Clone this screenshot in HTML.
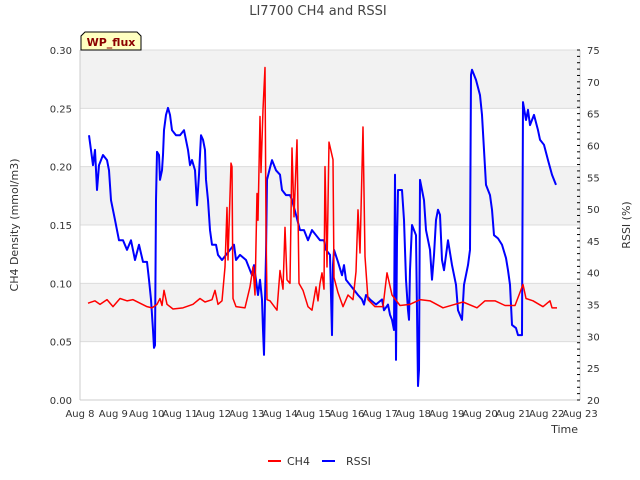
<!DOCTYPE html>
<html><head><meta charset="utf-8"><style>
body{margin:0;background:#fff;}
svg{display:block;font-family:"DejaVu Sans","Liberation Sans",sans-serif;}
</style></head><body>
<svg id="chart" width="640" height="480" xmlns="http://www.w3.org/2000/svg">
<text x="318" y="15" text-anchor="middle" font-size="13" fill="#444">LI7700 CH4 and RSSI</text>
<g id="bands"></g><g id="grid"></g><g id="axes"></g><g id="series"></g>
<text transform="translate(18,225) rotate(-90)" text-anchor="middle" font-size="11" fill="#333">CH4 Density (mmol/m3)</text>
<text transform="translate(630,225) rotate(-90)" text-anchor="middle" font-size="11" fill="#333">RSSI (%)</text>
<text x="578" y="433" text-anchor="end" font-size="11" fill="#333">Time</text>
<g>
<path d="M81,50 L81,36 L85,32 L137,32 L141,36 L141,50 Z" fill="#ffffc0" stroke="#000" stroke-width="1"/>
<text x="111" y="46" text-anchor="middle" font-size="11" font-weight="bold" fill="#8b0000">WP_flux</text>
</g>
<g>
<g><line x1="268" y1="461" x2="281" y2="461" stroke="#f00" stroke-width="2"/><text x="287" y="465" font-size="11" fill="#333">CH4</text></g>
<g><line x1="322" y1="461" x2="335" y2="461" stroke="#00f" stroke-width="2"/><text x="346" y="465" font-size="11" fill="#333">RSSI</text></g>
</g>
</svg>
<script>
const xTickLabels=["Aug 8","Aug 9","Aug 10","Aug 11","Aug 12","Aug 13","Aug 14","Aug 15","Aug 16","Aug 17","Aug 18","Aug 19","Aug 20","Aug 21","Aug 22","Aug 23"];
const yTicks=[0,0.05,0.10,0.15,0.20,0.25,0.30];
const y2Ticks=[20,25,30,35,40,45,50,55,60,65,70,75];
const ch4Days=[0.24,0.45,0.6,0.81,0.99,1.2,1.41,1.59,1.8,2.01,2.16,2.31,2.4,2.46,2.52,2.61,2.79,3.09,3.39,3.6,3.75,3.96,4.05,4.14,4.26,4.35,4.41,4.44,4.53,4.56,4.59,4.68,4.95,5.1,5.19,5.25,5.31,5.34,5.4,5.43,5.49,5.55,5.58,5.61,5.7,5.91,6.0,6.09,6.15,6.21,6.3,6.36,6.42,6.51,6.57,6.69,6.84,6.96,7.08,7.14,7.2,7.26,7.32,7.35,7.41,7.47,7.59,7.62,7.74,7.89,8.04,8.19,8.28,8.34,8.4,8.49,8.55,8.64,8.85,9.09,9.21,9.36,9.6,9.9,10.2,10.5,10.89,11.25,11.49,11.91,12.15,12.45,12.75,13.05,13.29,13.38,13.59,13.89,14.1,14.16,14.31];
const ch4Values=[.083,.085,.082,.086,.080,.087,.085,.086,.083,.080,.079,.082,.087,.081,.094,.082,.078,.079,.082,.087,.084,.086,.094,.082,.085,.114,.165,.12,.203,.20,.087,.08,.079,.097,.114,.09,.177,.154,.243,.195,.249,.285,.148,.086,.085,.077,.111,.095,.148,.103,.10,.216,.157,.223,.10,.094,.08,.077,.097,.085,.10,.109,.095,.20,.114,.221,.206,.105,.092,.08,.09,.086,.11,.163,.126,.234,.123,.086,.08,.08,.109,.09,.081,.082,.086,.085,.079,.082,.084,.079,.085,.085,.081,.081,.099,.087,.085,.08,.085,.079,.079];
const rssiDays=[0.27,0.39,0.45,0.51,0.57,0.69,0.81,0.87,0.93,1.05,1.17,1.29,1.41,1.53,1.65,1.77,1.89,2.01,2.07,2.13,2.19,2.22,2.25,2.28,2.31,2.37,2.4,2.46,2.49,2.52,2.58,2.64,2.7,2.76,2.88,3.0,3.12,3.24,3.3,3.36,3.45,3.51,3.57,3.63,3.69,3.75,3.78,3.84,3.9,3.96,4.08,4.14,4.26,4.38,4.5,4.62,4.68,4.8,4.98,5.1,5.16,5.22,5.34,5.4,5.46,5.49,5.52,5.55,5.58,5.61,5.7,5.76,5.88,6.0,6.06,6.18,6.3,6.36,6.48,6.6,6.72,6.84,6.96,7.08,7.2,7.32,7.38,7.5,7.56,7.59,7.62,7.74,7.86,7.92,7.98,8.1,8.22,8.34,8.46,8.52,8.58,8.7,8.88,9.06,9.12,9.24,9.3,9.36,9.42,9.45,9.48,9.51,9.54,9.66,9.72,9.78,9.84,9.87,9.9,9.96,10.08,10.14,10.17,10.2,10.32,10.38,10.5,10.56,10.62,10.68,10.74,10.8,10.86,10.92,11.04,11.16,11.28,11.34,11.46,11.52,11.64,11.7,11.73,11.76,11.88,12.0,12.06,12.12,12.18,12.3,12.36,12.42,12.54,12.66,12.78,12.84,12.9,12.96,13.08,13.14,13.26,13.29,13.38,13.44,13.5,13.62,13.74,13.8,13.92,14.04,14.16,14.28];
const rssiValues=[61.6,56.9,59.3,53.0,56.9,58.5,57.7,56.1,51.4,48.3,45.1,45.1,43.6,45.1,42.0,44.4,41.7,41.7,38.9,35.8,31.0,28.2,28.6,51.4,59.0,58.5,54.6,56.1,58.5,62.4,64.8,65.9,64.8,62.4,61.6,61.6,62.4,59.3,56.9,57.7,56.1,50.6,55.4,61.6,60.9,59.3,54.6,51.4,46.7,44.4,44.4,42.8,42.0,42.8,43.6,44.4,42.0,42.8,42.0,40.4,39.6,41.2,36.5,38.9,35.8,31.0,27.1,35.8,42.8,54.6,56.5,57.7,56.1,55.4,53.0,52.2,52.2,51.4,49.1,46.7,46.7,45.1,46.7,45.9,45.1,45.1,43.6,42.8,30.2,41.2,43.6,41.7,39.6,41.2,38.9,38.1,37.3,36.5,35.8,35.0,36.5,35.8,35.0,35.8,34.1,35.0,33.4,32.6,31.0,55.4,26.3,45.1,53.0,53.0,48.3,38.9,34.1,32.6,40.4,47.5,45.9,22.2,24.7,54.6,51.4,46.7,43.6,38.9,42.8,48.3,49.9,49.1,42.0,40.4,45.1,41.2,38.1,34.1,32.6,38.1,41.2,43.6,71.1,71.9,70.3,67.9,64.8,59.3,53.8,52.2,49.9,45.9,45.4,44.4,42.3,40.4,38.1,31.8,31.3,30.2,30.2,66.8,64.0,65.6,63.2,64.8,62.4,60.9,60.1,57.7,55.4,53.8];

const L=80,R=580,T=50,B=400,NS="http://www.w3.org/2000/svg";
const xs=d=>L+d*(R-L)/15;
const ys=v=>B-v/0.30*(B-T);
const y2s=v=>B-(v-20)/55*(B-T);
function mk(tag,attrs,parent){const e=document.createElementNS(NS,tag);for(const k in attrs)e.setAttribute(k,attrs[k]);document.getElementById(parent).appendChild(e);return e;}
[[0.25,0.30],[0.15,0.20],[0.05,0.10]].forEach(b=>{
 const r=mk('rect',{x:L,y:ys(b[1]),width:R-L,height:ys(b[0])-ys(b[1]),fill:'#f2f2f2'},'bands');
 
 
});
yTicks.forEach(v=>{
 const g=mk('line',{x1:L,x2:R,y1:ys(v),y2:ys(v),stroke:'#dcdcdc','stroke-width':1},'grid');
 
 
 const t=mk('text',{x:L-8,y:ys(v)+4,'text-anchor':'end','font-size':10,fill:'#333'},'axes');
 
 
 t.textContent=v.toFixed(2);
});
mk('line',{x1:L,x2:L,y1:T,y2:B,stroke:'#ccc'},'axes');
mk('line',{x1:L,x2:R,y1:B,y2:B,stroke:'#ccc'},'axes');
mk('line',{x1:R,x2:R,y1:T,y2:B,stroke:'#ccc'},'axes');
for(let v=20;v<=75;v++){
 mk('line',{x1:R-3,x2:R,y1:y2s(v),y2:y2s(v),stroke:'#000'},'axes');
}
y2Ticks.forEach(v=>{
 const t=mk('text',{x:R+7,y:y2s(v)+4,'font-size':10,fill:'#333'},'axes');
 
 
 t.textContent=v;
});
xTickLabels.forEach((s,i)=>{
 const t=mk('text',{x:xs(i),y:B+17,'text-anchor':'middle','font-size':10,fill:'#333'},'axes');
 
 
 t.textContent=s;
});
const rp=mk('polyline',{points:rssiDays.map((d,i)=>xs(d)+','+y2s(rssiValues[i])).join(' '),fill:'none',stroke:'#00f','stroke-width':2,'stroke-linejoin':'round'},'series');


const cp=mk('polyline',{points:ch4Days.map((d,i)=>xs(d)+','+ys(ch4Values[i])).join(' '),fill:'none',stroke:'#f00','stroke-width':1.5,'stroke-linejoin':'round'},'series');


</script>
</body></html>
